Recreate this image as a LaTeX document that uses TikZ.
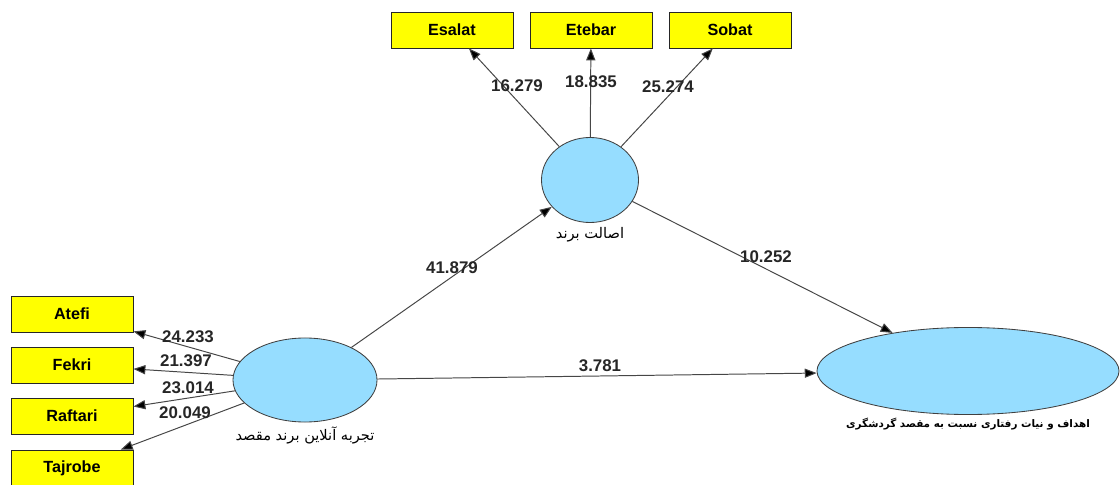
\documentclass[tikz,border=0pt]{standalone}
\usepackage{fontspec}
\setmainfont{Liberation Sans}
\newfontfamily\arabicfont[Script=Arabic]{DejaVu Sans}
\TeXXeTstate=1
\usetikzlibrary{positioning,arrows.meta,shapes.geometric}
\definecolor{boxyellow}{RGB}{255,255,0}
\definecolor{latentblue}{RGB}{150,221,255}
\definecolor{linegray}{RGB}{70,70,70}

\begin{document}
\begin{tikzpicture}[x=0.025cm,y=-0.025cm,
    indicator/.style={draw=black!85, fill=boxyellow, line width=0.6pt,
      minimum width=3.05cm, minimum height=0.9cm,
      font=\fontsize{11.5}{13}\selectfont\bfseries},
    latent/.style={ellipse, draw=black!75, fill=latentblue, line width=0.6pt, inner sep=0pt},
    arr/.style={draw=linegray, line width=0.7pt, -{Triangle[length=8.5pt,width=6.5pt,fill=black]}},
    num/.style={font=\fontsize{12}{14}\selectfont\bfseries, text=black!85, inner sep=1pt},
    farsi/.style={font=\arabicfont\fontsize{10.4}{11}\selectfont, inner sep=1pt}]
  \useasboundingbox (0,0) rectangle (1120,485);

  % latent variables
  \node[latent, minimum width=2.425cm, minimum height=2.125cm] (brand) at (590,180) {};
  \node[latent, minimum width=3.6cm, minimum height=2.1cm] (online) at (305,380) {};
  \node[latent, minimum width=7.55cm, minimum height=2.175cm] (intent) at (968,371) {};
  \node[farsi, below=2pt of brand] (brandlbl) {\beginR اصالت برند\endR};
  \node[farsi, below=2pt of online] (onlinelbl) {\beginR تجربه آنلاین برند مقصد\endR};
  \node[farsi, font=\arabicfont\fontsize{7.4}{9}\selectfont\bfseries, below=1pt of intent] (intentlbl)
    {\beginR اهداف و نیات رفتاری نسبت به مقصد گردشگری\endR};

  % indicators
  \node[indicator] (esalat) at (452,30) {Esalat};
  \node[indicator] (etebar) at (591,30) {Etebar};
  \node[indicator] (sobat) at (730,30) {Sobat};
  \node[indicator] (atefi) at (72,314) {Atefi};
  \node[indicator] (fekri) at (72,365) {Fekri};
  \node[indicator] (raftari) at (72,416) {Raftari};
  \node[indicator] (tajrobe) at (72,468) {Tajrobe};

  % paths
  \draw[arr] (brand) -- (esalat);
  \draw[arr] (brand) -- (etebar);
  \draw[arr] (brand) -- (sobat);
  \draw[arr] (online) -- (atefi);
  \draw[arr] (online) -- (fekri);
  \draw[arr] (online) -- (raftari);
  \draw[arr] (online) -- (tajrobe);
  \draw[arr] (online) -- (brand);
  \draw[arr] (brand) -- (intent);
  \draw[arr] (online) -- (intent);

  % t-values
  \node[num] (t1) at (517,86) {16.279};
  \node[num] (t2) at (591,82) {18.835};
  \node[num] (t3) at (668,87) {25.274};
  \node[num] (t4) at (188,337) {24.233};
  \node[num] (t5) at (186,361) {21.397};
  \node[num] (t6) at (188,388) {23.014};
  \node[num] (t7) at (185,413) {20.049};
  \node[num] (t8) at (452,268) {41.879};
  \node[num] (t9) at (766,257) {10.252};
  \node[num] (t10) at (600,366) {3.781};
\end{tikzpicture}
\end{document}
